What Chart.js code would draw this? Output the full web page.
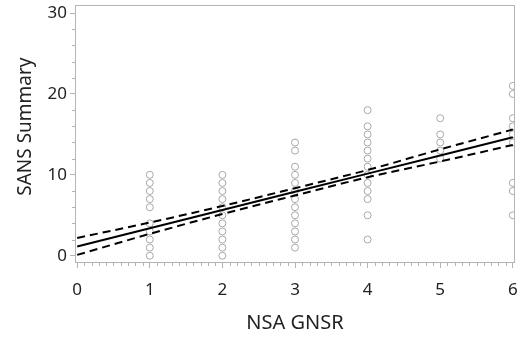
<!DOCTYPE html>
<html>
<head>
<meta charset="utf-8">
<script src="https://cdn.jsdelivr.net/npm/chart.js@4"></script>
<style>
  html, body { margin: 0; padding: 0; background: #fff; }
</style>
</head>
<body>
<canvas id="chart" width="527" height="341"></canvas>
<script>
// observed points (NSA GNSR vs SANS Summary)
const obsX = [1,1,1,1,1,1,1,1,1,1,
              2,2,2,2,2,2,2,2,2,2,2,
              3,3,3,3,3,3,3,3,3,3,3,3,3,
              4,4,4,4,4,4,4,4,4,4,4,4,4,
              5,5,5,5,5,
              6,6,6,6,6,6,6,6,6];
const obsY = [0,1,2,3,4,6,7,8,9,10,
              0,1,2,3,4,5,6,7,8,9,10,
              1,2,3,4,5,6,7,8,9,10,11,13,14,
              2,5,7,8,9,10,11,12,13,14,15,16,18,
              12,13,14,15,17,
              5,8,9,14,15,16,17,20,21];

// fitted line and confidence limits, read at each x
const fitX   = [0, 1, 2, 3, 4, 5, 6];
const fitY   = [1.15, 3.4, 5.65, 7.9, 10.15, 12.4, 14.65];
const upperY = [2.2, 4.1, 6.15, 8.35, 10.6, 13.15, 15.6];
const lowerY = [0.1, 2.7, 5.15, 7.45, 9.7, 11.65, 13.7];

const xTicks = [0, 1, 2, 3, 4, 5, 6];
const yTicks = [0, 10, 20, 30];

const toPts = (xs, ys) => xs.map((x, i) => ({ x: x, y: ys[i] }));

// frame + minor ticks
const framePlugin = {
    id: 'frame',
    afterDraw(chart) {
        const { ctx, chartArea: a, scales } = chart;
        ctx.save();
        ctx.strokeStyle = '#b4b4b4';
        ctx.lineWidth = 1;
        ctx.strokeRect(a.left + 0.5, a.top + 0.5, a.right - a.left - 1, a.bottom - a.top - 1);
        ctx.beginPath();
        for (let i = 1; i < 60; i++) {
            if (i % 10 === 0) continue;
            const px = Math.round(scales.x.getPixelForValue(i / 10)) + 0.5;
            ctx.moveTo(px, a.bottom);
            ctx.lineTo(px, a.bottom + 3);
        }
        for (let v = 2; v < 31; v += 2) {
            if (v % 10 === 0) continue;
            const py = Math.round(scales.y.getPixelForValue(v)) + 0.5;
            ctx.moveTo(a.left, py);
            ctx.lineTo(a.left - 3, py);
        }
        ctx.stroke();
        ctx.restore();
    }
};

const font = { family: '"Noto Sans", "Open Sans", sans-serif' };

new Chart(document.getElementById('chart'), {
    type: 'scatter',
    data: {
        datasets: [
            {
                data: toPts(obsX, obsY),
                pointStyle: 'circle',
                pointRadius: 3.5,
                backgroundColor: 'rgba(0,0,0,0)',
                borderColor: '#a8a8a8',
                borderWidth: 1,
                order: 2
            },
            {
                type: 'line',
                data: toPts(fitX, fitY),
                borderColor: '#000',
                borderWidth: 2,
                pointRadius: 0,
                fill: false,
                order: 1
            },
            {
                type: 'line',
                data: toPts(fitX, upperY),
                borderColor: '#000',
                borderWidth: 2,
                borderDash: [8, 5],
                pointRadius: 0,
                cubicInterpolationMode: 'monotone',
                fill: false,
                order: 1
            },
            {
                type: 'line',
                data: toPts(fitX, lowerY),
                borderColor: '#000',
                borderWidth: 2,
                borderDash: [8, 5],
                pointRadius: 0,
                cubicInterpolationMode: 'monotone',
                fill: false,
                order: 1
            }
        ]
    },
    options: {
        responsive: false,
        animation: false,
        layout: { padding: { top: 5, right: 12, left: 0, bottom: 0 } },
        plugins: { legend: { display: false }, tooltip: { enabled: false } },
        scales: {
            x: {
                type: 'linear',
                min: -0.03,
                max: 6.03,
                afterBuildTicks: s => { s.ticks = xTicks.map(v => ({ value: v })); },
                afterFit: s => { s.height = 78; s.paddingLeft = 0; s.paddingRight = 0; },
                grid: { drawOnChartArea: false, tickLength: 5, tickColor: '#b4b4b4' },
                border: { display: false },
                ticks: { color: '#222', font: { ...font, size: 17 }, padding: 12, maxRotation: 0 },
                title: { display: true, text: 'NSA GNSR', color: '#222', font: { ...font, size: 20 }, padding: { top: 4, bottom: 6 } }
            },
            y: {
                type: 'linear',
                min: -0.9,
                max: 31,
                afterBuildTicks: s => { s.ticks = yTicks.map(v => ({ value: v })); },
                afterFit: s => { s.width = 75; s.paddingTop = 0; s.paddingBottom = 0; },
                grid: { drawOnChartArea: false, tickLength: 5, tickColor: '#b4b4b4' },
                border: { display: false },
                ticks: { color: '#222', font: { ...font, size: 17 }, padding: 3 },
                title: { display: true, text: '   SANS Summary', color: '#222', font: { ...font, size: 19 }, padding: { bottom: 0, top: 14 } }
            }
        }
    },
    plugins: [framePlugin]
});
</script>
</body>
</html>
